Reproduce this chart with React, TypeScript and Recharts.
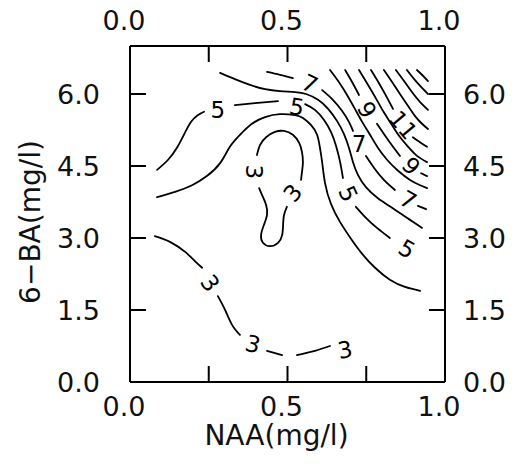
import React from 'react';
import { ComposedChart, Line, Scatter, XAxis, YAxis } from 'recharts';

type Pt = [number, number];

// axis ticks
const naaTicks = [0, 0.25, 0.5, 0.75, 1];
const naaLabelled = [0, 0.5, 1];
const baTicks = [0, 1.5, 3, 4.5, 6];

// contour pieces as [NAA, 6-BA]; a level is split where its label sits
const level3a: Pt[] = [[0.079, 3.04], [0.127, 2.92], [0.175, 2.71], [0.206, 2.52], [0.229, 2.38]];
const level3b: Pt[] = [[0.279, 1.79], [0.302, 1.5], [0.324, 1.19], [0.349, 0.98]];
const level3c: Pt[] = [[0.435, 0.65], [0.483, 0.56]];
const level3d: Pt[] = [[0.53, 0.56], [0.587, 0.65], [0.635, 0.75]];
const loop3a: Pt[] = [
  [0.403, 4.73], [0.413, 4.94], [0.432, 5.1], [0.46, 5.21], [0.489, 5.23], [0.517, 5.15],
  [0.537, 4.98], [0.546, 4.79], [0.549, 4.58], [0.546, 4.38], [0.543, 4.21],
];
const loop3b: Pt[] = [
  [0.498, 3.65], [0.489, 3.48], [0.486, 3.27], [0.483, 3.06], [0.47, 2.9], [0.444, 2.83],
  [0.422, 2.9], [0.416, 3.06], [0.425, 3.27], [0.435, 3.48], [0.432, 3.69], [0.419, 3.9], [0.41, 4.04],
];
const level4: Pt[] = [
  [0.086, 3.85], [0.143, 3.96], [0.197, 4.1], [0.244, 4.29], [0.286, 4.56], [0.317, 4.9],
  [0.349, 5.15], [0.387, 5.38], [0.429, 5.52], [0.476, 5.58], [0.524, 5.56], [0.549, 5.5],
  [0.575, 5.35], [0.594, 5.15], [0.603, 4.88], [0.61, 4.58], [0.619, 4.15], [0.638, 3.71],
  [0.667, 3.33], [0.702, 2.98], [0.737, 2.67], [0.778, 2.38], [0.825, 2.13], [0.873, 1.98], [0.921, 1.9],
];
const level5a: Pt[] = [[0.086, 4.42], [0.121, 4.63], [0.149, 4.88], [0.171, 5.15], [0.194, 5.42], [0.216, 5.56], [0.235, 5.63]];
const level5b: Pt[] = [[0.333, 5.77], [0.397, 5.81], [0.47, 5.85]];
const level5c: Pt[] = [[0.556, 5.79], [0.587, 5.67], [0.616, 5.46], [0.638, 5.21], [0.654, 4.92], [0.667, 4.58], [0.676, 4.25]];
const level5d: Pt[] = [[0.717, 3.65], [0.749, 3.42], [0.784, 3.21], [0.825, 3.0]];
const level6: Pt[] = [
  [0.286, 6.44], [0.333, 6.31], [0.381, 6.19], [0.429, 6.1], [0.476, 6.06], [0.524, 6.04],
  [0.559, 6.0], [0.597, 5.88], [0.629, 5.69], [0.657, 5.44], [0.679, 5.17], [0.695, 4.88],
  [0.708, 4.58], [0.724, 4.31], [0.749, 4.06], [0.787, 3.83], [0.832, 3.63], [0.879, 3.42], [0.927, 3.21],
];
const level7a: Pt[] = [[0.435, 6.46], [0.476, 6.4], [0.517, 6.33]];
const level7b: Pt[] = [[0.61, 6.08], [0.644, 5.88], [0.673, 5.65], [0.695, 5.42], [0.708, 5.23]];
const level7c: Pt[] = [[0.749, 4.71], [0.775, 4.46], [0.806, 4.21], [0.841, 4.0]];
const level7d: Pt[] = [[0.914, 3.67], [0.94, 3.6]];
const level8: Pt[] = [
  [0.635, 6.5], [0.663, 6.25], [0.689, 5.98], [0.714, 5.69], [0.737, 5.42], [0.762, 5.15],
  [0.787, 4.88], [0.816, 4.63], [0.851, 4.4], [0.889, 4.21], [0.921, 4.1], [0.943, 4.04],
];
const level9a: Pt[] = [[0.683, 6.5], [0.705, 6.25], [0.727, 5.98]];
const level9b: Pt[] = [[0.784, 5.38], [0.81, 5.13], [0.835, 4.9], [0.857, 4.71]];
const level9c: Pt[] = [[0.924, 4.35], [0.943, 4.29]];
const level10: Pt[] = [
  [0.727, 6.5], [0.752, 6.23], [0.778, 5.94], [0.803, 5.65], [0.829, 5.38], [0.854, 5.13],
  [0.883, 4.9], [0.911, 4.71], [0.943, 4.58],
];
const level11a: Pt[] = [[0.765, 6.5], [0.79, 6.23], [0.813, 5.96], [0.835, 5.69]];
const level11b: Pt[] = [[0.898, 5.1], [0.924, 4.98], [0.943, 4.9]];
const level12: Pt[] = [[0.806, 6.5], [0.832, 6.25], [0.857, 6.0], [0.883, 5.75], [0.905, 5.54], [0.927, 5.38], [0.946, 5.27]];
const level13: Pt[] = [[0.844, 6.5], [0.87, 6.27], [0.895, 6.04], [0.921, 5.83], [0.946, 5.67]];
const level14: Pt[] = [[0.879, 6.5], [0.902, 6.31], [0.924, 6.15], [0.946, 6.0]];
const level15: Pt[] = [[0.911, 6.5], [0.93, 6.38], [0.946, 6.27]];

// inline contour labels: position, text, rotation (deg)
const contourLabels = [
  { x: 0.254, y: 2.06, text: '3', angle: 55 },
  { x: 0.39, y: 0.79, text: '3', angle: 15 },
  { x: 0.683, y: 0.67, text: '3', angle: -10 },
  { x: 0.517, y: 3.94, text: '3', angle: -50 },
  { x: 0.394, y: 4.38, text: '3', angle: 90 },
  { x: 0.279, y: 5.67, text: '5', angle: 0 },
  { x: 0.53, y: 5.73, text: '5', angle: 10 },
  { x: 0.692, y: 3.92, text: '5', angle: 65 },
  { x: 0.879, y: 2.77, text: '5', angle: 30 },
  { x: 0.571, y: 6.21, text: '7', angle: 25 },
  { x: 0.727, y: 4.96, text: '7', angle: 0 },
  { x: 0.883, y: 3.79, text: '7', angle: 30 },
  { x: 0.752, y: 5.67, text: '9', angle: 60 },
  { x: 0.892, y: 4.5, text: '9', angle: 45 },
  { x: 0.867, y: 5.35, text: '11', angle: 50 },
];

const segments: Pt[][] = [
  level3a, level3b, level3c, level3d, loop3a, loop3b, level4,
  level5a, level5b, level5c, level5d, level6,
  level7a, level7b, level7c, level7d, level8,
  level9a, level9b, level9c, level10, level11a, level11b,
  level12, level13, level14, level15,
];

const FONT = '"DejaVu Sans", sans-serif';
const TICK_LEN = 16;
const fmt = (v: number) => v.toFixed(1);

const BottomTick = (p: any) => {
  const v = p.payload.value;
  return (
    <g>
      {v > 0 && v < 1 && <line x1={p.x} y1={p.y} x2={p.x} y2={p.y - TICK_LEN} stroke="#000" strokeWidth={2} />}
      {naaLabelled.includes(v) && (
        <text x={p.x - 6} y={p.y + 34} textAnchor="middle" fontSize={27} fontFamily={FONT} fill="#111">{fmt(v)}</text>
      )}
    </g>
  );
};

const TopTick = (p: any) => {
  const v = p.payload.value;
  return (
    <g>
      {v > 0 && v < 1 && <line x1={p.x} y1={p.y} x2={p.x} y2={p.y + TICK_LEN} stroke="#000" strokeWidth={2} />}
      {naaLabelled.includes(v) && (
        <text x={p.x - 6} y={p.y - 16} textAnchor="middle" fontSize={27} fontFamily={FONT} fill="#111">{fmt(v)}</text>
      )}
    </g>
  );
};

const LeftTick = (p: any) => {
  const v = p.payload.value;
  return (
    <g>
      {v > 0 && <line x1={p.x} y1={p.y} x2={p.x + TICK_LEN} y2={p.y} stroke="#000" strokeWidth={2} />}
      <text x={p.x - 30} y={p.y + 10} textAnchor="end" fontSize={27} fontFamily={FONT} fill="#111">{fmt(v)}</text>
    </g>
  );
};

const RightTick = (p: any) => {
  const v = p.payload.value;
  return (
    <g>
      {v > 0 && <line x1={p.x} y1={p.y} x2={p.x - TICK_LEN} y2={p.y} stroke="#000" strokeWidth={2} />}
      <text x={p.x + 18} y={p.y + 10} textAnchor="start" fontSize={27} fontFamily={FONT} fill="#111">{fmt(v)}</text>
    </g>
  );
};

const XTitle = (props: any) => {
  const vb = props.viewBox && props.viewBox.width ? props.viewBox : { x: 130, y: 382, width: 315, height: 40 };
  return (
    <text x={vb.x + vb.width / 2 - 11} y={vb.y + 63} textAnchor="middle" fontSize={28} fontFamily={FONT} fill="#111">
      NAA(mg/l)
    </text>
  );
};

const YTitle = (props: any) => {
  const vb = props.viewBox && props.viewBox.height ? props.viewBox : { x: 70, y: 46, width: 60, height: 336 };
  const tx = vb.x + vb.width - 90;
  const ty = vb.y + vb.height / 2 + 8;
  return (
    <text x={tx} y={ty} transform={`rotate(-90 ${tx} ${ty})`} textAnchor="middle" fontSize={28} fontFamily={FONT} fill="#111">
      6−BA(mg/l)
    </text>
  );
};

const ContourLabel = (p: any) => {
  const { cx, cy, payload } = p;
  return (
    <text
      x={cx}
      y={cy}
      transform={`rotate(${payload.angle} ${cx} ${cy})`}
      textAnchor="middle"
      dominantBaseline="central"
      fontSize={23}
      fontFamily={FONT}
      fill="#000"
    >
      {payload.text}
    </text>
  );
};

export default function App() {
  const rows = (pts: Pt[]) => pts.map(([x, y]) => ({ x, y }));
  const axisLine = { stroke: '#000', strokeWidth: 2 };

  return (
    <div style={{ position: 'absolute', left: 0, top: 0, background: '#fff' }}>
      <ComposedChart width={526} height={466} margin={{ top: 6, right: 21, bottom: 44, left: 70 }}>
        <XAxis
          xAxisId="b" type="number" dataKey="x" domain={[0, 1]} ticks={naaTicks} allowDataOverflow
          height={40} tickSize={0} tickMargin={0} tickLine={false} axisLine={axisLine}
          tick={BottomTick} interval={0} label={<XTitle />}
        />
        <XAxis
          xAxisId="t" orientation="top" type="number" dataKey="x" domain={[0, 1]} ticks={naaTicks} allowDataOverflow
          height={40} tickSize={0} tickMargin={0} tickLine={false} axisLine={axisLine}
          tick={TopTick} interval={0}
        />
        <YAxis
          yAxisId="l" type="number" dataKey="y" domain={[0, 7]} ticks={baTicks} allowDataOverflow
          width={60} tickSize={0} tickMargin={0} tickLine={false} axisLine={axisLine}
          tick={LeftTick} interval={0} label={<YTitle />}
        />
        <YAxis
          yAxisId="r" orientation="right" type="number" dataKey="y" domain={[0, 7]} ticks={baTicks} allowDataOverflow
          width={60} tickSize={0} tickMargin={0} tickLine={false} axisLine={axisLine}
          tick={RightTick} interval={0}
        />
        {segments.map((seg, i) => (
          <Line
            key={`seg-${i}`}
            xAxisId="b"
            yAxisId="l"
            data={rows(seg)}
            dataKey="y"
            type="natural"
            stroke="#000"
            strokeWidth={1.8}
            strokeLinecap="round"
            dot={false}
            activeDot={false}
            isAnimationActive={false}
          />
        ))}
        <Scatter
          xAxisId="b"
          yAxisId="l"
          data={contourLabels}
          shape={ContourLabel}
          isAnimationActive={false}
        />
      </ComposedChart>
    </div>
  );
}
